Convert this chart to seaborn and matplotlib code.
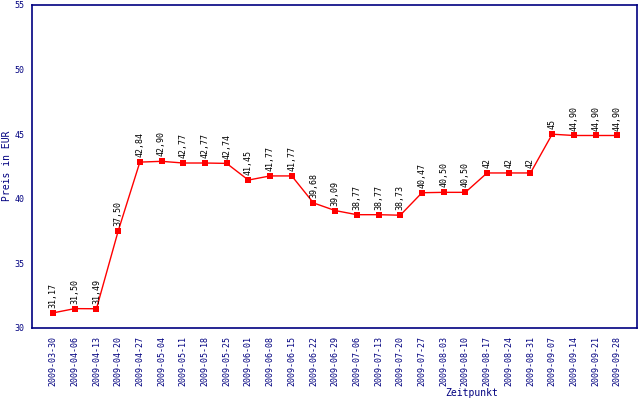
import numpy as np
import pandas as pd
import matplotlib
matplotlib.use("Agg")
import matplotlib.pyplot as plt
import seaborn as sns

dates = ["2009-03-30", "2009-04-06", "2009-04-13", "2009-04-20", "2009-04-27",
         "2009-05-04", "2009-05-11", "2009-05-18", "2009-05-25", "2009-06-01",
         "2009-06-08", "2009-06-15", "2009-06-22", "2009-06-29", "2009-07-06",
         "2009-07-13", "2009-07-20", "2009-07-27", "2009-08-03", "2009-08-10",
         "2009-08-17", "2009-08-24", "2009-08-31", "2009-09-07", "2009-09-14",
         "2009-09-21", "2009-09-28"]
prices = [31.17, 31.50, 31.49, 37.50, 42.84, 42.90, 42.77, 42.77, 42.74, 41.45,
          41.77, 41.77, 39.68, 39.09, 38.77, 38.77, 38.73, 40.47, 40.50, 40.50,
          42, 42, 42, 45, 44.90, 44.90, 44.90]
price_labels = ["31,17", "31,50", "31,49", "37,50", "42,84", "42,90", "42,77", "42,77",
                "42,74", "41,45", "41,77", "41,77", "39,68", "39,09", "38,77", "38,77",
                "38,73", "40,47", "40,50", "40,50", "42", "42", "42", "45", "44,90",
                "44,90", "44,90"]

navy = "#000080"

sns.set_style("white")
plt.rcParams["font.family"] = ["DejaVu Sans Mono", "DejaVu Sans"]

df = pd.DataFrame({"pos": np.arange(len(dates)), "preis": prices})

fig = plt.figure(figsize=(6.4, 4.0), dpi=100)
ax = fig.add_axes([0.05, 0.18, 0.945, 0.8075])

sns.lineplot(data=df, x="pos", y="preis", ax=ax, color="red", linewidth=1,
             marker="s", markersize=4.5, markeredgewidth=0, markerfacecolor="red")

for x, y, lab in zip(df["pos"], df["preis"], price_labels):
    ax.annotate(lab, (x, y), xytext=(0, 3.5), textcoords="offset points",
                rotation=90, ha="center", va="bottom", fontsize=6, color="black")

ax.set_xlim(-0.97, 26.9)
ax.set_ylim(30, 55)
ax.set_yticks([30, 35, 40, 45, 50, 55])
ax.set_xticks(df["pos"])
ax.set_xticklabels(dates, rotation=90, fontsize=6, color=navy)
ax.tick_params(axis="y", labelsize=6, colors=navy, direction="out", length=4, width=1, pad=1.5)
ax.tick_params(axis="x", colors=navy, direction="out", length=4, width=1, pad=2)

for sp in ax.spines.values():
    sp.set_color(navy)
    sp.set_linewidth(1.2)
    sp.set_visible(True)

ax.set_ylabel("")
ax.set_xlabel("")
fig.text(7 / 640, 1 - 166 / 400, "Preis in EUR", fontsize=7, color=navy,
         rotation=90, ha="center", va="center")
fig.text(472 / 640, 1 - 393 / 400, "Zeitpunkt", fontsize=7, color=navy,
         ha="center", va="center")

fig.savefig("out.png", dpi=100)
